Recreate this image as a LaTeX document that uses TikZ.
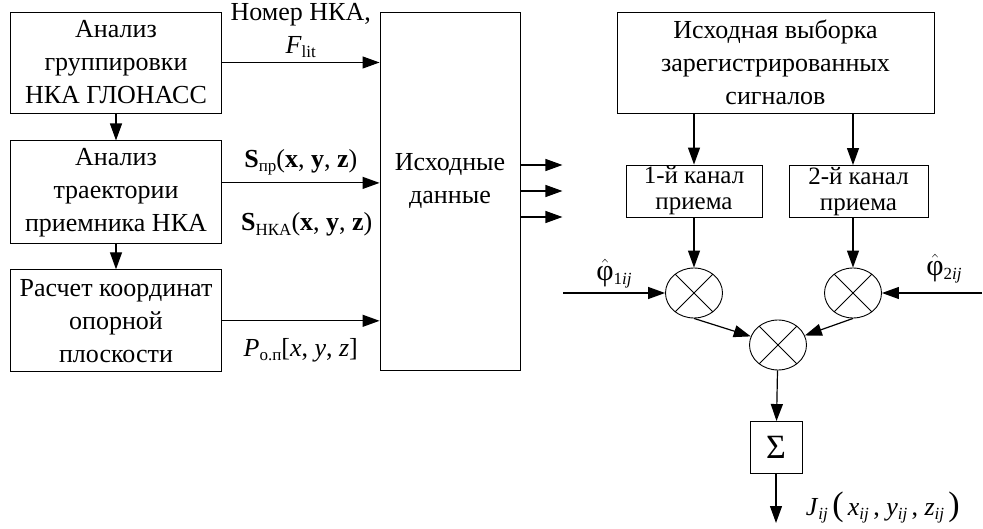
\documentclass[tikz,border=0pt]{standalone}
\usepackage{fontspec}
\setmainfont{Liberation Serif}
\usepackage{amsmath}
\usetikzlibrary{positioning,arrows.meta,calc,shapes.geometric}
\newcommand{\lowidx}[1]{\raisebox{-0.35ex}{\fontsize{17}{17}\selectfont #1}}

\begin{document}
\begin{tikzpicture}[
    x=1pt, y=-1pt,
    font=\fontsize{26}{33}\selectfont,
    line width=1.2pt,
    block/.style={draw, align=center, inner sep=0pt, line width=0.9pt},
    chan/.style={block, font=\fontsize{25}{26}\selectfont, minimum height=52},
    mult/.style={draw, ellipse, minimum width=57, minimum height=50, inner sep=0pt, line width=0.9pt},
    arrow/.style={-{Triangle[length=17pt,width=12pt]}}
]
\useasboundingbox (0,0) rectangle (983,529);

\node[block, minimum width=211, minimum height=101] (grp) at (116,62.5) {Анализ\\группировки\\НКА ГЛОНАСС};
\node[block, minimum width=211, minimum height=103, below=27pt of grp] (traj) {Анализ\\траектории\\приемника НКА};
\node[block, minimum width=211, minimum height=102, below=25pt of traj] (calc) {Расчет координат\\опорной\\плоскости};
\node[block, minimum width=140, minimum height=358] (data) at (450,191) {Исходные\\данные\\[-8pt]};

\draw[arrow] (grp) -- (traj);
\draw[arrow] (traj) -- (calc);

\draw[arrow] (grp) -- (grp -| data.west) node[midway, above=1pt, align=center] {Номер НКА,\\\textit{F}\lowidx{lit}};
\coordinate (tin) at ([yshift=9.5pt]traj.east);
\draw[arrow] (tin) -- (tin -| data.west)
    node[midway, above=4pt] {{\bfseries S}\lowidx{пр}({\bfseries x}, {\bfseries y}, {\bfseries z})}
    node[midway, below=26pt, xshift=6pt] {{\bfseries S}\lowidx{НКА}({\bfseries x}, {\bfseries y}, {\bfseries z})};
\draw[arrow] (calc) -- (calc -| data.west) node[midway, below=14pt] {\textit{P}\lowidx{о.п}[\textit{x}, \textit{y}, \textit{z}]};

\foreach \dy/\nm in {-26/o1, 0/o2, 26/o3} {
    \coordinate (\nm) at ($(data.east)+(42,\dy)$);
    \draw[arrow] (data.east |- \nm) -- (\nm);
}

\node[block, minimum width=317, minimum height=101] (src) at (775.5,62.5) {Исходная выборка\\зарегистрированных\\сигналов};
\node[chan, minimum width=136] (ch1) at (694,191) {1-й канал\\приема};
\node[chan, minimum width=139] (ch2) at (858.5,191.5) {2-й канал\\приема};
\node[mult] (m1) at (694,293) {};
\node[mult] (m2) at (853,293) {};
\node[mult] (m3) at (778,345) {};
\node[block, minimum size=52, font=\fontsize{34}{34}\selectfont] (sum) at (776,447.5) {Σ};

\foreach \m in {m1,m2,m3} {
    \draw[line width=0.9pt] (\m.45) -- (\m.225) (\m.135) -- (\m.315);
}

\draw[arrow] (src.south -| ch1) -- (ch1);
\draw[arrow] (src.south -| m2) -- (ch2.north -| m2);
\draw[arrow] (ch1) -- (m1);
\draw[arrow] (ch2.south -| m2) -- (m2);

\coordinate (p1) at (563,293);
\coordinate (p2) at (982,293);
\draw[arrow] (p1) -- (m1) node[midway, above=1pt] {$\hat{\mbox{\fontsize{30}{30}\selectfont φ}}$\lowidx{1\textit{ij}}};
\draw[arrow] (p2) -- (m2) node[pos=0.38, above=6pt] {$\hat{\mbox{\fontsize{30}{30}\selectfont φ}}$\lowidx{2\textit{ij}}};
\draw[arrow] (m1.south) -- (m3);
\draw[arrow] (m2.south) -- (m3);
\draw[arrow] (m3) -- (sum);

\coordinate (out) at (776,523);
\draw[arrow] (sum) -- (out) node[pos=0.68, right=26pt] {\textit{J}\lowidx{\textit{ij}}\,{\fontsize{34}{34}\selectfont(}\,\textit{x}\lowidx{\textit{ij}}\,, \textit{y}\lowidx{\textit{ij}}\,, \textit{z}\lowidx{\textit{ij}}\,{\fontsize{34}{34}\selectfont)}};
\end{tikzpicture}
\end{document}
